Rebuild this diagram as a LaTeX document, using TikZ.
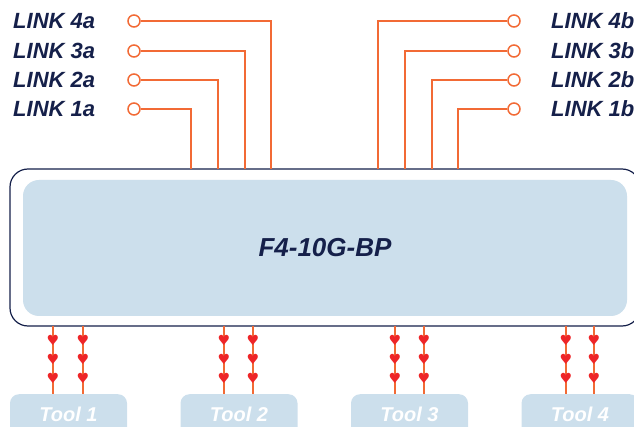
\documentclass[tikz,border=0pt]{standalone}
\usepackage{fontspec}
\setmainfont{Liberation Sans}
\newfontfamily\symfont{DejaVu Sans}
\usetikzlibrary{decorations.markings}
\definecolor{linkorange}{HTML}{F26A35}
\definecolor{navy}{HTML}{15204A}
\definecolor{panelblue}{HTML}{CCDFEC}
\definecolor{heartred}{HTML}{EE2528}

\begin{document}
\begin{tikzpicture}[x=1pt,y=-1pt,
  linklabel/.style={anchor=west,inner sep=0pt,text=navy,font=\fontsize{22}{24}\selectfont\bfseries\itshape},
  port/.style={circle,draw=linkorange,line width=1.5pt,fill=white,minimum size=12pt,inner sep=0pt},
  link/.style={draw=linkorange,line width=1.4pt},
  heart/.style={inner sep=0pt,text=heartred,font=\symfont\fontsize{14}{14}\selectfont},
  tap/.style={link,postaction={decorate},decoration={markings,
    mark=at position 14pt with {\node[heart]{♥};},
    mark=at position 33pt with {\node[heart]{♥};},
    mark=at position 52pt with {\node[heart]{♥};}}},
  tool/.style={anchor=north,fill=panelblue,rounded corners=9pt,inner sep=0pt,
    minimum width=117pt,text height=27pt,text depth=30pt,text=white,
    font=\fontsize{20}{22}\selectfont\bfseries\itshape}]
\clip (0,0) rectangle (634,427);

% main unit
\node[draw=navy,line width=1.2pt,fill=white,rounded corners=18pt,minimum width=630pt,minimum height=157pt] (frame) at (325,247.5) {};
\node[fill=panelblue,rounded corners=16pt,minimum width=604pt,minimum height=136pt,text=navy,
  font=\fontsize{26}{28}\selectfont\bfseries\itshape] (switch) at (325,248) {F4-10G-BP};

% side a
\node[linklabel] (n4a) at (13,21) {LINK 4a};
\node[linklabel] (n3a) at (13,51) {LINK 3a};
\node[linklabel] (n2a) at (13,80) {LINK 2a};
\node[linklabel] (n1a) at (13,109) {LINK 1a};
\coordinate (t4a) at (271,169);
\coordinate (t3a) at (245,169);
\coordinate (t2a) at (218,169);
\coordinate (t1a) at (191,169);
\node[port] (p4a) at (134,21) {};
\node[port] (p3a) at (134,51) {};
\node[port] (p2a) at (134,80) {};
\node[port] (p1a) at (134,109) {};
\draw[link] (p4a) -| (t4a);
\draw[link] (p3a) -| (t3a);
\draw[link] (p2a) -| (t2a);
\draw[link] (p1a) -| (t1a);

% side b
\node[linklabel] (n4b) at (551,21) {LINK 4b};
\node[linklabel] (n3b) at (551,51) {LINK 3b};
\node[linklabel] (n2b) at (551,80) {LINK 2b};
\node[linklabel] (n1b) at (551,109) {LINK 1b};
\coordinate (t4b) at (378,169);
\coordinate (t3b) at (405,169);
\coordinate (t2b) at (432,169);
\coordinate (t1b) at (458,169);
\node[port] (p4b) at (514,21) {};
\node[port] (p3b) at (514,51) {};
\node[port] (p2b) at (514,80) {};
\node[port] (p1b) at (514,109) {};
\draw[link] (p4b) -| (t4b);
\draw[link] (p3b) -| (t3b);
\draw[link] (p2b) -| (t2b);
\draw[link] (p1b) -| (t1b);

% tools
\node[tool] (tool1) at (68.5,394) {Tool 1};
\node[tool] (tool2) at (239,394) {Tool 2};
\node[tool] (tool3) at (409.5,394) {Tool 3};
\node[tool] (tool4) at (580,394) {Tool 4};
\foreach \t/\xa/\xb in {1/53/83,2/224/253,3/395/424,4/566/594} {
  \coordinate (d\t a) at (\xa,326);
  \coordinate (d\t b) at (\xb,326);
  \draw[tap] (d\t a) -- (d\t a |- tool\t.north);
  \draw[tap] (d\t b) -- (d\t b |- tool\t.north);
}
\end{tikzpicture}
\end{document}
